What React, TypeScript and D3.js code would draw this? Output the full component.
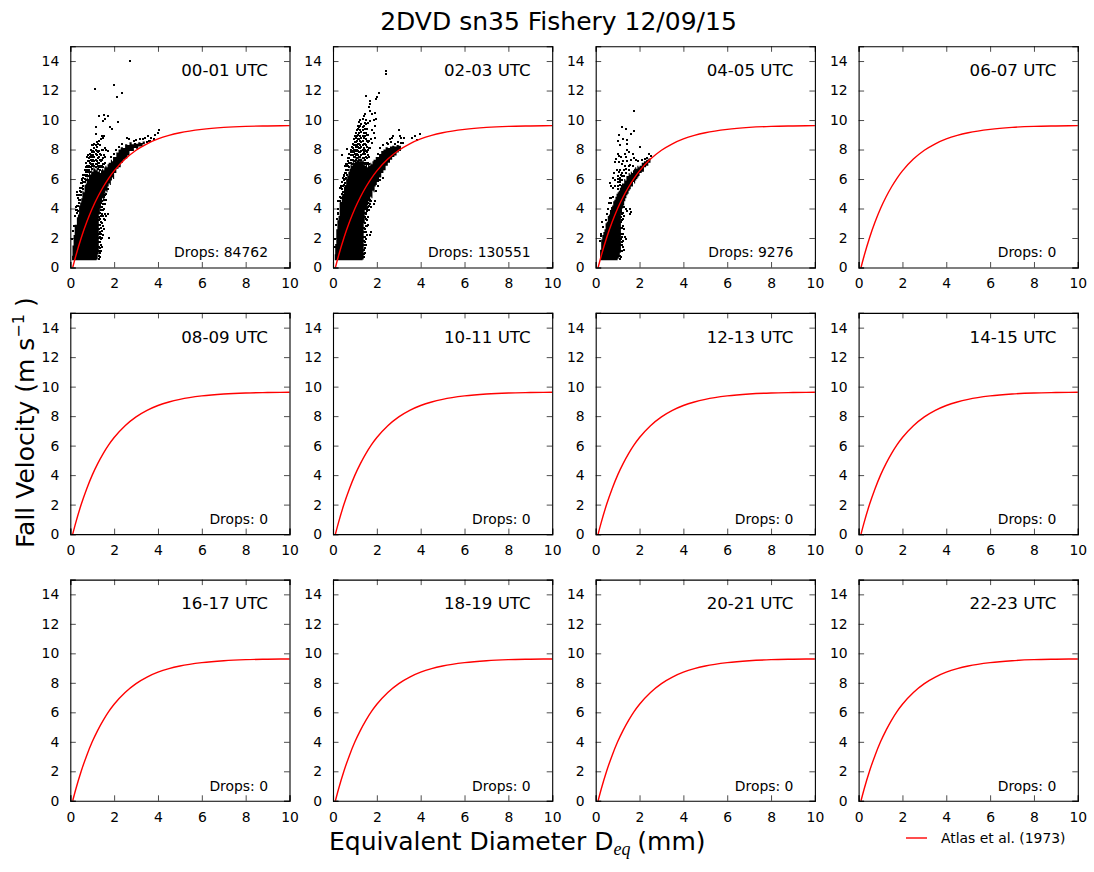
import { useEffect, useRef } from "react";
import * as d3 from "d3";

type Pt = [number, number];
type Row = [number, number[]];

const hours = ["00-01", "02-03", "04-05", "06-07", "08-09", "10-11", "12-13", "14-15", "16-17", "18-19", "20-21", "22-23"];
const dropCounts = [84762, 130551, 9276, 0, 0, 0, 0, 0, 0, 0, 0, 0];
const xTicks = [0, 2, 4, 6, 8, 10];
const yTicks = [0, 2, 4, 6, 8, 10, 12, 14];

// Atlas et al. (1973) line
const atlasD = [0.11, 0.25, 0.5, 0.75, 1, 1.25, 1.5, 1.75, 2, 2.5, 3, 3.5, 4, 4.5, 5, 6, 7, 8, 9, 10];
const atlasV = [0, 0.78, 2.02, 3.08, 4.0, 4.78, 5.46, 6.05, 6.55, 7.35, 7.95, 8.39, 8.72, 8.96, 9.14, 9.37, 9.5, 9.57, 9.6, 9.62];

// solid part of each scatter: diameter, lowest and highest velocity
const cloud0D = [0.08, 0.1, 0.15, 0.2, 0.25, 0.3, 0.35, 0.4, 0.45, 0.5, 0.55, 0.6, 0.65, 0.7, 0.75, 0.8, 0.85, 0.9, 0.95, 1.0, 1.05, 1.1, 1.15, 1.2, 1.25, 1.3, 1.35, 1.4, 1.45, 1.5, 1.55, 1.6, 1.65, 1.7, 1.75, 1.8, 1.85, 1.9, 1.95, 2.0, 2.1, 2.2, 2.3, 2.4, 2.5, 2.6, 2.7, 2.8, 2.9, 3.0, 3.1, 3.2, 3.3, 3.4];
const cloud0Low = [0.5, 0.5, 0.5, 0.5, 0.5, 0.5, 0.5, 0.5, 0.5, 0.5, 0.5, 0.5, 0.5, 0.5, 0.5, 0.5, 0.5, 0.5, 0.5, 0.5, 0.5, 0.5, 0.5, 0.55, 0.9, 3.6, 4.0, 4.3, 4.7, 4.5, 5.0, 5.2, 5.1, 5.5, 5.7, 5.6, 5.9, 6.1, 6.0, 6.4, 6.7, 6.8, 7.1, 7.3, 7.4, 7.6, 7.9, 7.9, 8.1, 8.05, 8.2, 8.2, 8.35, 8.4];
const cloud0High = [0.8, 1.5, 2.2, 2.9, 2.9, 3.4, 3.6, 4.2, 4.4, 4.7, 5.2, 5.1, 5.6, 5.7, 6.1, 6.0, 6.4, 6.3, 6.6, 6.5, 6.8, 6.7, 6.6, 6.8, 6.5, 6.6, 6.4, 6.6, 6.7, 6.6, 6.8, 6.9, 6.8, 7.0, 7.1, 7.1, 7.3, 7.2, 7.5, 7.5, 7.8, 8.0, 8.15, 8.1, 8.35, 8.3, 8.5, 8.35, 8.45, 8.4, 8.5, 8.45, 8.55, 8.5];

const cloud1D = [0.08, 0.1, 0.15, 0.2, 0.25, 0.3, 0.35, 0.4, 0.45, 0.5, 0.55, 0.6, 0.65, 0.7, 0.75, 0.8, 0.85, 0.9, 0.95, 1.0, 1.05, 1.1, 1.15, 1.2, 1.25, 1.3, 1.35, 1.4, 1.45, 1.5, 1.55, 1.6, 1.65, 1.7, 1.75, 1.8, 1.85, 1.9, 1.95, 2.0, 2.1, 2.2, 2.3, 2.4, 2.5, 2.6, 2.7, 2.8, 2.9, 3.0, 3.1];
const cloud1Low = [0.5, 0.5, 0.5, 0.5, 0.5, 0.5, 0.5, 0.5, 0.5, 0.5, 0.5, 0.5, 0.5, 0.5, 0.5, 0.5, 0.5, 0.5, 0.5, 0.5, 0.5, 0.5, 0.5, 0.5, 0.5, 0.5, 0.55, 3.0, 3.9, 3.7, 4.2, 4.5, 4.4, 4.8, 4.7, 5.2, 5.1, 5.5, 5.6, 5.8, 6.1, 6.4, 6.6, 6.9, 7.1, 7.3, 7.5, 7.6, 7.8, 7.9, 8.0];
const cloud1High = [0.9, 1.6, 2.6, 3.2, 3.5, 4.4, 4.3, 4.9, 5.0, 5.5, 5.6, 6.0, 6.2, 6.5, 6.7, 7.0, 6.9, 7.2, 7.1, 7.4, 7.2, 7.3, 7.5, 7.2, 7.4, 7.2, 7.3, 7.0, 6.9, 7.0, 6.8, 7.0, 6.9, 7.1, 7.0, 7.2, 7.3, 7.3, 7.5, 7.5, 7.7, 7.9, 8.0, 8.15, 8.1, 8.2, 8.25, 8.2, 8.3, 8.25, 8.3];

const cloud2D = [0.2, 0.25, 0.3, 0.35, 0.4, 0.45, 0.5, 0.55, 0.6, 0.65, 0.7, 0.75, 0.8, 0.85, 0.9, 0.95, 1.0, 1.05, 1.1, 1.15, 1.2, 1.25, 1.3, 1.35, 1.4, 1.45, 1.5, 1.55, 1.6, 1.65, 1.7, 1.75, 1.8, 1.85, 1.9, 1.95, 2.0, 2.1, 2.2, 2.3, 2.4, 2.5];
const cloud2Low = [0.5, 0.5, 0.5, 0.5, 0.5, 0.5, 0.5, 0.5, 0.5, 0.5, 0.5, 0.5, 0.5, 0.5, 0.5, 0.5, 0.6, 0.7, 1.0, 3.7, 4.0, 4.2, 4.5, 4.7, 4.9, 5.0, 5.2, 5.3, 5.5, 5.5, 5.8, 5.7, 5.9, 6.0, 6.1, 6.2, 6.4, 6.5, 6.8, 6.9, 7.1, 7.3];
const cloud2High = [1.2, 1.9, 2.2, 2.4, 2.6, 3.0, 3.1, 3.5, 3.6, 3.9, 4.1, 4.2, 4.5, 4.6, 4.8, 5.0, 5.1, 5.2, 5.4, 5.6, 5.7, 5.7, 6.0, 5.9, 6.2, 6.2, 6.4, 6.3, 6.5, 6.4, 6.6, 6.7, 6.8, 6.7, 6.9, 6.8, 6.9, 7.1, 7.2, 7.3, 7.4, 7.6];

// scattered drops around the solid part, as single points
const drops0: Pt[] = [
  [2.72, 14.0], [1.12, 12.13], [1.99, 12.4], [2.34, 11.8], [2.11, 11.53], [1.31, 10.3], [1.53, 10.36], [1.7, 10.3], [1.58, 10.07], [1.5, 9.95], [2.16, 9.84],
  [1.81, 9.55], [1.88, 9.4], [1.17, 9.55], [1.17, 9.05], [1.5, 8.94], [1.65, 8.0], [1.72, 7.9],
  [0.1, 1.9], [0.13, 2.5], [0.17, 2.8], [0.22, 3.5], [0.25, 3.9], [0.28, 4.1], [0.29, 4.2], [0.29, 5.1], [0.3, 4.9], [1.76, 2.0], [1.73, 3.6],
  [1.85, 7.5], [2.0, 7.7], [2.1, 7.95], [2.2, 8.15], [2.35, 8.4], [2.6, 8.75], [2.7, 8.7], [2.9, 8.6], [3.0, 8.65], [3.2, 8.7],
  [3.4, 8.75], [3.55, 8.9], [3.7, 8.8], [3.85, 9.0], [4.05, 9.3], [4.0, 9.1], [3.6, 8.6], [3.8, 8.7], [3.3, 8.7], [3.5, 8.5], [3.65, 8.55],
];

const drops1: Pt[] = [
  [2.4, 13.3], [2.44, 13.1], [2.1, 11.8], [1.5, 11.6], [2.0, 11.55], [1.95, 11.4], [1.7, 11.3], [1.7, 11.1], [1.64, 10.9], [1.68, 10.6],
  [1.9, 10.5], [1.8, 10.4], [1.95, 10.1], [1.85, 10.0], [1.7, 9.95], [1.9, 9.6], [1.8, 9.3], [1.85, 9.15], [1.75, 8.7], [1.9, 8.8],
  [1.8, 8.45], [1.7, 8.1], [0.4, 7.6], [0.65, 8.05], [0.22, 3.7], [0.18, 3.3], [0.15, 2.9], [0.1, 1.9], [0.08, 1.4],
  [1.68, 2.2], [1.75, 2.4], [1.92, 4.5], [1.85, 4.3], [1.95, 5.2], [2.05, 5.5], [2.15, 5.9], [2.3, 6.1],
  [2.05, 7.7], [2.15, 8.1], [2.3, 8.3], [2.45, 8.45], [2.6, 8.7], [2.7, 8.8], [2.75, 8.9], [2.65, 8.5], [2.85, 8.4], [3.0, 9.3], [3.05, 8.95], [3.1, 8.75],
  [3.25, 8.8], [3.6, 8.75], [3.75, 8.9], [3.85, 8.65], [3.95, 9.05], [3.2, 8.45], [3.1, 8.45], [2.95, 8.5], [2.5, 8.35],
];

const drops2: Pt[] = [
  [1.74, 10.63], [1.22, 9.5], [1.36, 9.4], [1.74, 9.24], [1.05, 9.0], [1.63, 9.05], [1.25, 8.7], [1.43, 8.67], [1.02, 8.6], [1.13, 8.34], [1.43, 8.4], [2.0, 8.2],
  [1.45, 8.0], [1.5, 7.8], [1.7, 7.7], [1.35, 7.7], [1.0, 7.7], [1.05, 7.55], [0.92, 7.35], [1.15, 7.5], [1.38, 7.5], [1.25, 7.25], [1.45, 7.25], [1.6, 7.3],
  [1.75, 7.4], [1.85, 7.3], [1.95, 7.2], [2.1, 7.3], [2.25, 7.35], [2.35, 7.45], [2.45, 7.7], [2.5, 7.55], [0.9, 7.15], [1.05, 7.15], [1.2, 7.0], [1.35, 6.85],
  [1.55, 6.95], [1.7, 6.9], [0.85, 6.4], [0.95, 6.6], [1.05, 6.45], [1.15, 6.25], [0.78, 6.1], [0.9, 5.95], [1.0, 5.8], [1.1, 5.9], [0.65, 5.7], [0.7, 5.55],
  [0.8, 5.4], [0.88, 5.55], [0.65, 4.7], [0.72, 4.7], [0.8, 4.75], [0.6, 4.4], [0.55, 3.95], [0.68, 4.4], [0.5, 3.6], [0.45, 3.2], [0.3, 3.1], [0.35, 2.75],
  [0.25, 2.3], [0.22, 2.15], [0.2, 1.8], [1.3, 4.1], [1.3, 2.6], [1.35, 2.1], [1.4, 1.9], [1.55, 3.6], [1.6, 3.75], [1.58, 4.0], [1.4, 4.0], [1.3, 3.5], [1.45, 3.8], [1.3, 1.2],
];

// speckle in the thinner parts, one row of velocities per diameter
const speckle0: Row[] = [
  [0.3, [3.7, 3.9, 4.2]], [0.35, [3.8, 4.2, 4.7]], [0.4, [4.4, 4.6, 4.95]], [0.45, [4.6, 4.9, 5.2, 5.4]], [0.5, [4.9, 5.1, 5.4, 5.7]],
  [0.55, [5.4, 5.7, 5.9, 6.0]], [0.6, [5.3, 5.5, 5.8, 6.1, 6.3]], [0.65, [5.8, 6.0, 6.3, 6.6]], [0.7, [5.9, 6.2, 6.5, 6.8, 7.1]], [0.75, [6.3, 6.6, 6.9, 7.5]],
  [0.8, [6.2, 6.5, 6.8, 7.2, 7.6]], [0.85, [6.6, 6.9, 7.2, 7.4]], [0.9, [6.5, 6.8, 7.1, 7.5, 7.7]], [0.95, [6.8, 7.0, 7.3, 7.6, 8.0]], [1.0, [6.7, 6.9, 7.2, 7.5, 7.8, 8.3]],
  [1.05, [7.0, 7.3, 7.6, 7.9, 8.3]], [1.1, [6.9, 7.2, 7.5, 7.8, 8.1, 8.35]], [1.15, [6.8, 7.0, 7.3, 7.7, 8.0, 8.3]], [1.2, [7.0, 7.2, 7.6, 7.9, 8.2, 8.5]],
  [1.25, [6.7, 6.9, 7.1, 7.4, 7.8, 8.4]], [1.3, [6.8, 7.1, 7.5, 7.9, 8.6]], [1.35, [6.6, 6.9, 7.3, 7.7, 8.3]], [1.4, [6.8, 7.2, 7.6, 8.7]], [1.45, [6.9, 7.3, 8.0, 8.9]],
  [1.5, [6.8, 7.0, 7.4, 8.0, 8.8]], [1.55, [7.0, 7.6, 8.9]], [1.6, [7.1, 7.5, 8.1]],
  [1.3, [0.6, 0.8, 1.1, 1.4, 1.7, 2.0, 2.3, 2.6, 2.9, 3.2, 3.4]], [1.35, [0.7, 1.0, 1.3, 1.7, 2.1, 2.4, 2.9, 3.3, 3.7]], [1.4, [1.1, 1.5, 1.9, 2.3, 2.7, 3.1, 3.5, 3.9, 4.1]],
  [1.45, [1.4, 2.0, 2.5, 3.0, 3.6, 4.1, 4.5]], [1.5, [2.2, 2.8, 3.5, 3.9, 4.3]], [1.55, [2.6, 3.3, 4.0, 4.6, 4.8]], [1.6, [3.2, 3.6, 4.3, 4.9]], [1.65, [3.5, 4.6, 5.0]], [1.7, [3.65, 5.3]],
];

const speckle1: Row[] = [
  [0.25, [3.6, 4.0, 4.5]], [0.3, [4.5, 4.8, 5.4]], [0.35, [4.4, 4.7, 5.4, 5.5]], [0.4, [5.0, 5.3, 5.8]], [0.45, [5.1, 5.5, 6.1]], [0.5, [5.6, 5.9, 6.2, 6.3]],
  [0.55, [5.7, 6.0, 6.4, 6.9]], [0.6, [6.1, 6.4, 6.6, 7.0]], [0.65, [6.3, 6.6, 6.9, 7.0]], [0.7, [6.6, 6.9, 7.2, 7.4]], [0.75, [6.8, 7.1, 7.4, 7.7]], [0.8, [7.1, 7.3, 7.6, 7.8, 8.0]],
  [0.85, [7.0, 7.3, 7.6, 7.9, 8.2]], [0.9, [7.3, 7.6, 7.8, 8.1, 8.4]], [0.95, [7.2, 7.5, 7.8, 8.0, 8.3, 8.7]], [1.0, [7.5, 7.7, 8.0, 8.3, 8.5, 8.9]],
  [1.05, [7.3, 7.6, 7.9, 8.2, 8.5, 8.8, 9.1]], [1.1, [7.4, 7.7, 8.0, 8.3, 8.6, 8.9, 9.3]], [1.15, [7.6, 7.9, 8.2, 8.4, 8.7, 9.0, 9.4, 9.6]],
  [1.2, [7.3, 7.5, 7.8, 8.1, 8.4, 8.7, 9.1, 9.5, 9.9]], [1.25, [7.5, 7.8, 8.1, 8.3, 8.6, 8.9, 9.3, 9.6, 10.0]], [1.3, [7.3, 7.6, 7.9, 8.2, 8.5, 8.8, 9.2, 9.7]],
  [1.35, [7.4, 7.7, 8.0, 8.3, 8.6, 8.9, 9.3, 9.5, 10.1]], [1.4, [7.1, 7.4, 7.8, 8.1, 8.4, 8.8, 9.1, 9.6, 10.3]], [1.45, [7.0, 7.3, 7.7, 8.0, 8.4, 8.9, 9.4, 9.8, 10.4]],
  [1.5, [7.1, 7.5, 7.9, 8.3, 8.7, 9.1, 9.7, 10.0]], [1.55, [7.0, 7.4, 7.8, 8.2, 8.6, 9.0, 9.4]], [1.6, [7.1, 7.6, 8.0, 8.5, 9.0, 9.8]], [1.65, [7.0, 7.5, 8.1, 8.6]],
  [1.4, [0.7, 0.9, 1.2, 1.5, 1.8, 2.1, 2.4, 2.7]], [1.45, [1.0, 1.3, 1.7, 2.1, 2.6, 3.0, 3.4, 3.7]], [1.5, [1.5, 1.9, 2.4, 2.8, 3.3, 3.6]], [1.55, [2.2, 2.8, 3.2, 3.8, 4.0]],
  [1.6, [2.9, 3.4, 4.1, 4.4]], [1.65, [3.9, 4.2]], [1.7, [4.3, 4.6]], [1.75, [4.1, 4.5]],
];

const speckle2: Row[] = [
  [1.1, [0.6, 0.8]], [1.15, [0.7, 1.1, 1.5, 1.9, 2.3, 2.7, 3.1, 3.4]], [1.2, [1.1, 1.5, 1.7, 2.1, 2.7, 3.2, 3.6]], [1.25, [1.4, 1.8, 2.3, 2.8, 3.3, 3.7]],
  [1.0, [5.3, 5.5, 6.0, 6.2]], [1.1, [5.6, 5.8, 6.1, 6.6]], [1.2, [5.9, 6.2, 6.4]], [1.3, [6.2, 6.6]], [1.4, [6.4, 6.7]], [1.5, [6.6, 6.9]],
];

const cloudTables: { d: number[]; low: number[]; high: number[] }[] = [
  { d: cloud0D, low: cloud0Low, high: cloud0High },
  { d: cloud1D, low: cloud1Low, high: cloud1High },
  { d: cloud2D, low: cloud2Low, high: cloud2High },
];
const dropTables = [drops0, drops1, drops2];
const speckleTables = [speckle0, speckle1, speckle2];

const panelW = 219.2;
const panelH = 221.2;
const colLeft = [70.3, 333, 595.7, 858.6];
const rowTop = [46.3, 312.9, 579.6];

export default function App() {
  const svgRef = useRef<SVGSVGElement>(null);

  useEffect(() => {
    if (!svgRef.current) return;
    const svg = d3.select(svgRef.current);
    svg.selectAll("*").remove();

    const x = d3.scaleLinear().domain([0, 10]).range([0, panelW]);
    const y = d3.scaleLinear().domain([0, 15]).range([panelH, 0]);
    const atlas = d3.line<number>()
      .x((d) => x(d))
      .y((_, i) => y(atlasV[i]))
      .curve(d3.curveMonotoneX);

    hours.forEach((hour, i) => {
      const col = i % 4;
      const row = Math.floor(i / 4);
      const g = svg.append("g").attr("transform", `translate(${colLeft[col]},${rowTop[row]})`);

      const table = cloudTables[i];
      if (table) {
        const area = d3.area<number>()
          .x((d) => x(d))
          .y0((_, k) => y(table.low[k]))
          .y1((_, k) => y(table.high[k]))
          .curve(d3.curveStepAfter);
        g.append("path").attr("d", area(table.d)).attr("fill", "#000");

        const speckled: Pt[] = speckleTables[i].flatMap(([d, vs]) => vs.map((v): Pt => [d, v]));
        g.selectAll("rect.drop")
          .data([...dropTables[i], ...speckled])
          .join("rect")
          .attr("class", "drop")
          .attr("x", (d) => x(d[0]) - 1)
          .attr("y", (d) => y(d[1]) - 1)
          .attr("width", 2)
          .attr("height", 2)
          .attr("fill", "#000")
          .attr("shape-rendering", "crispEdges");
      }

      g.append("path")
        .attr("d", atlas(atlasD))
        .attr("fill", "none")
        .attr("stroke", "#ff0000")
        .attr("stroke-width", 1.4);

      const axes = [
        { gen: d3.axisBottom(x).tickValues(xTicks).tickSize(-5.5).tickPadding(11), at: [0, panelH], labels: true },
        { gen: d3.axisTop(x).tickValues(xTicks).tickSize(-5.5), at: [0, 0], labels: false },
        { gen: d3.axisLeft(y).tickValues(yTicks).tickSize(-5.5).tickPadding(11), at: [0, 0], labels: true },
        { gen: d3.axisRight(y).tickValues(yTicks).tickSize(-5.5), at: [panelW, 0], labels: false },
      ];
      axes.forEach((a) => {
        const ag = g.append("g").attr("transform", `translate(${a.at[0]},${a.at[1]})`).call(a.gen as any);
        ag.select(".domain").attr("stroke", "#000").attr("stroke-width", 1.1);
        ag.selectAll(".tick line").attr("stroke", "#000").attr("stroke-width", 0.7);
        ag.selectAll(".tick text")
          .attr("font-family", "DejaVu Sans")
          .attr("font-size", 13.9)
          .attr("fill", "#000")
          .style("display", a.labels ? null : "none");
      });

      g.append("text")
        .attr("x", panelW - 21.5)
        .attr("y", 29.7)
        .attr("text-anchor", "end")
        .attr("font-family", "DejaVu Sans")
        .attr("font-size", 16.67)
        .text(`${hour} UTC`);
      g.append("text")
        .attr("x", panelW - 21.5)
        .attr("y", 211)
        .attr("text-anchor", "end")
        .attr("font-family", "DejaVu Sans")
        .attr("font-size", 13.9)
        .text(`Drops: ${dropCounts[i]}`);
    });

    svg.append("text")
      .attr("x", 558.5)
      .attr("y", 30)
      .attr("text-anchor", "middle")
      .attr("font-family", "DejaVu Sans")
      .attr("font-size", 25)
      .text("2DVD sn35 Fishery 12/09/15");

    const xLabel = svg.append("text")
      .attr("x", 329)
      .attr("y", 850)
      .attr("font-family", "DejaVu Sans")
      .attr("font-size", 25);
    xLabel.append("tspan").text("Equivalent Diameter D");
    xLabel.append("tspan")
      .attr("dy", 5)
      .attr("font-size", 18)
      .attr("font-style", "italic")
      .attr("font-family", "Liberation Serif")
      .text("eq");
    xLabel.append("tspan").attr("dy", -5).attr("dx", -1).text(" (mm)");

    const yLabel = svg.append("text")
      .attr("transform", "translate(34,548) rotate(-90)")
      .attr("font-family", "DejaVu Sans")
      .attr("font-size", 25);
    yLabel.append("tspan").text("Fall Velocity (m s");
    yLabel.append("tspan").attr("dy", -10).attr("font-size", 16).text("\u22121");
    yLabel.append("tspan").attr("dy", 10).attr("dx", -1).text(" )");

    const legendScale = d3.scaleLinear().domain([0, 1]).range([906, 927]);
    svg.append("line")
      .attr("x1", legendScale(0))
      .attr("x2", legendScale(1))
      .attr("y1", 838)
      .attr("y2", 838)
      .attr("stroke", "#ff0000")
      .attr("stroke-width", 1.4);
    svg.append("text")
      .attr("x", 941)
      .attr("y", 843)
      .attr("font-family", "DejaVu Sans")
      .attr("font-size", 13.9)
      .text("Atlas et al. (1973)");
  }, []);

  return (
    <svg
      ref={svgRef}
      width={1094}
      height={872}
      style={{ position: "absolute", left: 0, top: 0, background: "#fff" }}
    />
  );
}
